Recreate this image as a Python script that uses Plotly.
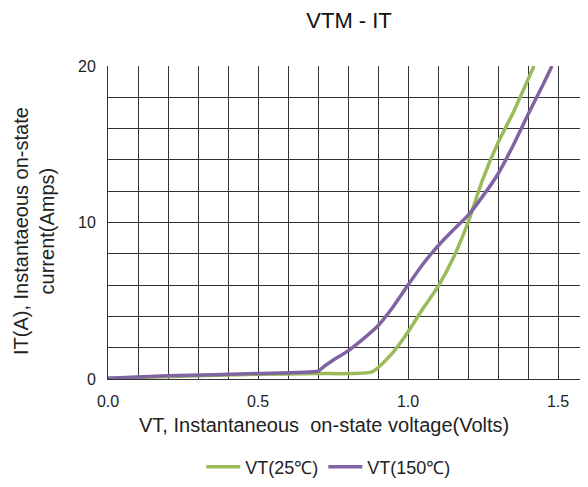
import plotly.graph_objects as go

vt_25 = [0.0, 0.3, 0.5, 0.7, 0.88, 0.95, 1.0, 1.05, 1.1, 1.15, 1.2, 1.25, 1.3, 1.35, 1.42]
it_25 = [0.05, 0.2, 0.3, 0.35, 0.45, 1.7, 3.0, 4.5, 5.9, 7.7, 10.0, 12.8, 15.1, 17.0, 20.0]

vt_150 = [0.0, 0.2, 0.5, 0.7, 0.72, 0.75, 0.8, 0.85, 0.9, 0.95, 1.0, 1.05, 1.1, 1.15, 1.2, 1.25, 1.3, 1.35, 1.4, 1.45, 1.48]
it_150 = [0.05, 0.2, 0.35, 0.5, 0.8, 1.2, 1.8, 2.55, 3.4, 4.6, 6.0, 7.35, 8.5, 9.5, 10.45, 11.7, 13.1, 14.9, 16.9, 18.8, 20.0]

names = ["VT(25℃)", "VT(150℃)"]
colors = ["#9BBB59", "#8064A2"]
x_title = "VT, Instantaneous  on-state voltage(Volts)"
y_title = "IT(A), Instantaeous on-state<br>current(Amps)"

fig = go.Figure()
fig.add_trace(go.Scatter(x=vt_25, y=it_25, mode="lines", name=names[0],
                         line=dict(color=colors[0], width=3.5, shape="spline", smoothing=0.5)))
fig.add_trace(go.Scatter(x=vt_150, y=it_150, mode="lines", name=names[1],
                         line=dict(color=colors[1], width=3.5, shape="spline", smoothing=0.5)))

font = "Liberation Sans, Arial, sans-serif"
fig.update_layout(
    width=588, height=487,
    margin=dict(l=100, r=8, t=58, b=116),
    paper_bgcolor="white", plot_bgcolor="white",
    font=dict(family=font, color="#222", size=16),
    title=dict(text="VTM - IT", x=0.58, xanchor="center", y=0.975, yanchor="middle",
               font=dict(size=22, color="#111")),
    showlegend=True,
    legend=dict(orientation="h", x=0.46, xanchor="center", y=-0.281, yanchor="middle",
                font=dict(size=18), traceorder="normal", itemwidth=34),
    xaxis=dict(range=[0, 1.6], dtick=0.5, tickformat=".1f", showgrid=True,
               gridcolor="#333", gridwidth=1,
               minor=dict(dtick=0.1, showgrid=True, gridcolor="#333", gridwidth=1),
               showline=True, linecolor="#333", zeroline=False, ticks="",
               tickfont=dict(size=16), ticklabelstandoff=8, automargin=False),
    yaxis=dict(range=[0, 20], dtick=10, showgrid=True, gridcolor="#333", gridwidth=1,
               minor=dict(dtick=2, showgrid=True, gridcolor="#333", gridwidth=1),
               showline=True, linecolor="#333", zeroline=False, ticks="",
               tickfont=dict(size=16), ticklabelstandoff=8, automargin=False),
    annotations=[
        dict(text=x_title, xref="paper", yref="paper", x=0.45, y=-0.147,
             xanchor="center", yanchor="middle", showarrow=False,
             font=dict(size=20, color="#222")),
        dict(text=y_title, xref="paper", yref="paper", x=-0.154, y=0.473,
             xanchor="center", yanchor="middle", showarrow=False, textangle=-90,
             font=dict(size=20, color="#222")),
    ],
)

fig.write_html("out.html")
